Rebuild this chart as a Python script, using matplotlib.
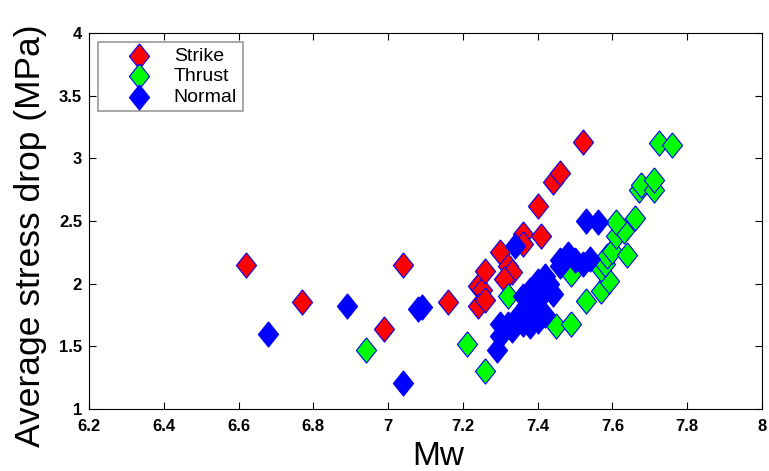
import numpy as np
import matplotlib
matplotlib.use("Agg")
import matplotlib.pyplot as plt

# Values
strike_mw = [6.62, 6.77, 6.99, 7.04, 7.16, 7.24, 7.25, 7.24, 7.26, 7.26, 7.30, 7.32,
             7.33, 7.31, 7.36, 7.36, 7.41, 7.40, 7.44, 7.46, 7.52]
strike_sd = [2.15, 1.85, 1.64, 2.15, 1.85, 1.98, 1.95, 1.82, 1.87, 2.10, 2.25, 2.14,
             2.09, 2.04, 2.40, 2.32, 2.38, 2.62, 2.81, 2.88, 3.13]

thrust_mw = [6.94, 7.21, 7.26, 7.32, 7.45, 7.49, 7.49, 7.53, 7.57, 7.59, 7.57, 7.58,
             7.585, 7.60, 7.64, 7.61, 7.63, 7.61, 7.66, 7.67, 7.675, 7.71, 7.71,
             7.725, 7.76]
thrust_sd = [1.47, 1.52, 1.30, 1.90, 1.66, 1.68, 2.08, 1.86, 1.94, 2.02, 2.12, 2.16,
             2.22, 2.26, 2.23, 2.38, 2.42, 2.49, 2.52, 2.75, 2.79, 2.75, 2.83,
             3.12, 3.11]

normal_mw = [6.68, 6.89, 7.04, 7.08, 7.09, 7.29, 7.30, 7.30, 7.33, 7.34, 7.34, 7.37,
             7.39, 7.38, 7.40, 7.415, 7.42, 7.44, 7.46, 7.48, 7.50, 7.52, 7.53, 7.56,
             7.36, 7.38, 7.40, 7.42, 7.35, 7.43, 7.40, 7.46, 7.54, 7.32, 7.40, 7.36]
normal_sd = [1.60, 1.82, 1.21, 1.80, 1.81, 1.47, 1.58, 1.68, 1.63, 1.71, 2.30, 1.82,
             1.74, 1.66, 1.87, 1.98, 2.06, 1.92, 2.19, 2.24, 2.19, 2.16, 2.50, 2.49,
             1.90, 1.95, 1.80, 1.75, 1.75, 2.00, 1.70, 2.14, 2.20, 1.68, 2.02, 1.68]

x_ticks = [6.2, 6.4, 6.6, 6.8, 7, 7.2, 7.4, 7.6, 7.8, 8]
x_labels = ["6.2", "6.4", "6.6", "6.8", "7", "7.2", "7.4", "7.6", "7.8", "8"]
y_ticks = [1, 1.5, 2, 2.5, 3, 3.5, 4]
y_labels = ["1", "1.5", "2", "2.5", "3", "3.5", "4"]

plt.rcParams['font.family'] = ['Liberation Sans', 'DejaVu Sans']

# MATLAB-style elongated diamond
diamond = [(0, 1), (0.8, 0), (0, -1), (-0.8, 0), (0, 1)]

fig = plt.figure(figsize=(7.69, 4.71), dpi=100)
ax = fig.add_axes([0.1157, 0.1316, 0.8753, 0.7984])

ms = 330
ax.scatter(strike_mw, strike_sd, s=ms, marker=diamond, facecolor='#ff0000',
           edgecolor='#0000ff', linewidth=0.8, label='Strike')
ax.scatter(thrust_mw, thrust_sd, s=ms, marker=diamond, facecolor='#00ff00',
           edgecolor='#0000ff', linewidth=0.8, label='Thrust')
ax.scatter(normal_mw, normal_sd, s=ms, marker=diamond, facecolor='#0000ff',
           edgecolor='#0000ff', linewidth=0.8, label='Normal')

ax.set_xlim(6.2, 8)
ax.set_ylim(1, 4)
ax.set_xticks(x_ticks)
ax.set_xticklabels(x_labels, fontweight='bold')
ax.set_yticks(y_ticks)
ax.set_yticklabels(y_labels, fontweight='bold')
ax.tick_params(direction='in', top=True, right=True, length=5, width=0.8,
               labelsize=12)
ax.tick_params(axis='x', pad=7)
ax.tick_params(axis='y', pad=5)
for sp in ax.spines.values():
    sp.set_linewidth(0.8)

ax.set_xlabel("Mw", fontsize=24)
ax.set_ylabel("Average stress drop (MPa)", fontsize=25.5)
ax.xaxis.set_label_coords(0.519, -0.085)
ax.yaxis.set_label_coords(-0.062, 0.462)

leg = ax.legend(loc='upper left', fontsize=14, frameon=True, fancybox=False,
                borderpad=0.3, labelspacing=0.13, handlelength=3.6,
                handletextpad=0.0, borderaxespad=0.46, scatterpoints=1)
leg.get_frame().set_edgecolor('#808080')
leg.get_frame().set_linewidth(1.2)

fig.savefig("out.png", dpi=100)
